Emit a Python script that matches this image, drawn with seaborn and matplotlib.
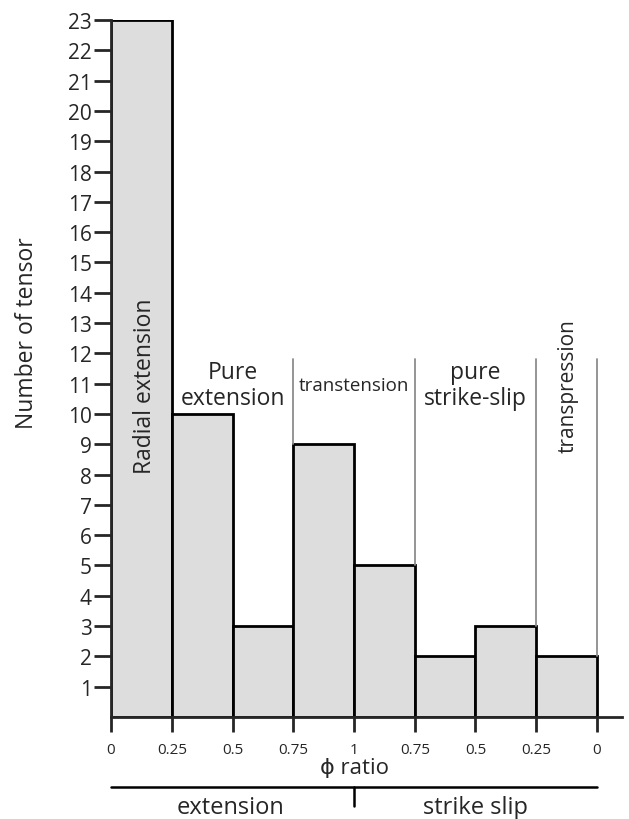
"""
Histogram of phi ratio for stress tensors, by tectonic regime.
"""

import matplotlib
matplotlib.use("Agg")
import matplotlib.pyplot as plt
import matplotlib.transforms as mtransforms
import seaborn as sns
import numpy as np

# data
bin_edges = [0, 0.25, 0.5, 0.75, 1.0, 1.25, 1.5, 1.75, 2.0]
counts = [23, 10, 3, 9, 5, 2, 3, 2]
tick_labels = ["0", "0.25", "0.5", "0.75", "1", "0.75", "0.5", "0.25", "0"]
y_ticks = list(range(1, 24))

regimes = ["Radial extension", "Pure\nextension", "transtension",
           "pure\nstrike-slip", "transpression"]
regime_x = [0.14, 0.50, 1.0, 1.50, 1.88]
regime_rot = [90, 0, 0, 0, 90]
regime_size = [16.5, 16.5, 13.5, 16.5, 15]
separators = [0.75, 1.25, 1.75, 2.0]
bottom_groups = ["extension", "strike slip"]

sns.set_style("ticks")
plt.rcParams['font.family'] = ['Open Sans', 'DejaVu Sans']

fig = plt.figure(figsize=(6.29, 8.2), dpi=100)
ax = fig.add_axes([0.1765, 0.1244, 0.8124, 0.85])

centers = [(a + b) / 2 for a, b in zip(bin_edges[:-1], bin_edges[1:])]
sns.histplot(x=centers, weights=counts, bins=bin_edges, ax=ax,
             color="#dddddd", edgecolor="black", linewidth=2, alpha=1)

ax.set_xlim(0, 2.103)
ax.set_ylim(0, 23)
ax.set_yticks(y_ticks)
ax.set_yticklabels([str(v) for v in y_ticks], fontsize=15)
ax.set_xticks(bin_edges)
ax.set_xticklabels(tick_labels, fontsize=11)
ax.tick_params(axis='y', length=12, width=2, pad=2)
ax.tick_params(axis='x', length=11, width=2, pad=7)
ax.set_xlabel("")
ax.set_ylabel("Number of tensor", fontsize=16.5)
ax.yaxis.set_label_coords(-0.14, 0.552)

for side in ["top", "right"]:
    ax.spines[side].set_visible(False)
for side in ["left", "bottom"]:
    ax.spines[side].set_linewidth(2)

# regime separators
top = 11.8
for x in separators:
    left = np.searchsorted(bin_edges, x) - 1
    h = max(counts[left], counts[left + 1] if left + 1 < len(counts) else 0)
    ax.plot([x, x], [h, top], color="#8c8c8c", lw=1.3, zorder=1)

# regime labels
for name, x, rot, fs in zip(regimes, regime_x, regime_rot, regime_size):
    ax.text(x, 10.95, name, rotation=rot, ha="center", va="center",
            fontsize=fs, linespacing=1.1, zorder=3)

# x label and extension / strike slip bar below axis
trans = mtransforms.blended_transform_factory(ax.transData, ax.transAxes)
ax.text(1.0, -0.072, "ϕ ratio", transform=trans, ha="center", va="center",
        fontsize=16)
ax.plot([0, 2], [-0.1004, -0.1004], transform=trans, color="black",
        lw=1.8, clip_on=False)
ax.plot([1, 1], [-0.1004, -0.1277], transform=trans, color="black",
        lw=1.8, clip_on=False)
ax.text(0.49, -0.129, bottom_groups[0], transform=trans, ha="center",
        va="center", fontsize=17)
ax.text(1.50, -0.129, bottom_groups[1], transform=trans, ha="center",
        va="center", fontsize=17)

fig.savefig("out.png", dpi=100)
